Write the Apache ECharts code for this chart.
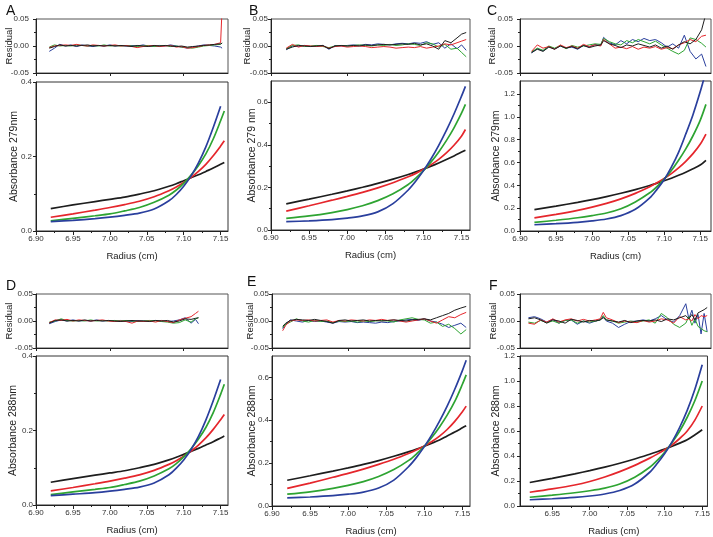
<!DOCTYPE html>
<html><head><meta charset="utf-8">
<script src="https://cdn.jsdelivr.net/npm/echarts@6/dist/echarts.min.js"></script>
<style>html,body{margin:0;padding:0;background:#fff}#c{width:713px;height:537px}</style>
</head><body><div id="c"></div>
<script>
// ---------------- DATA ----------------
const panelLetters = ['A','B','C','D','E','F'];
const yTitles = ['Absorbance 279nm','Absorbance 279 nm','Absorbance 279nm','Absorbance 288nm','Absorbance 288nm','Absorbance 288nm'];
const xTitle = 'Radius (cm)';
const resTitle = 'Residual';
const seriesColors = ['#1e1e1e','#e5262c','#2ea432','#2a3f9d']; // black, red, green, blue

// fitted absorbance curves (radius in cm)
const radiusFit  = [6.92,6.95,6.98,7.00,7.02,7.04,7.06,7.08,7.09,7.10,7.11,7.12,7.13,7.14,7.15,7.155];
const radiusFitC = [6.92,6.95,6.98,7.00,7.02,7.04,7.06,7.08,7.09,7.10,7.11,7.12,7.13,7.14,7.15,7.158];
const radiusFitF = [6.92,6.95,6.98,7.00,7.02,7.04,7.06,7.08,7.09,7.10,7.11,7.12,7.13,7.14,7.15];

const blackFitA = [.060,.070,.079,.085,.091,.099,.108,.120,.127,.135,.143,.151,.160,.169,.179,.184];
const redFitA   = [.037,.046,.056,.063,.071,.080,.092,.108,.118,.130,.144,.160,.179,.202,.228,.242];
const greenFitA = [.027,.034,.041,.046,.054,.063,.077,.096,.110,.128,.150,.176,.207,.247,.296,.322];
const blueFitA  = [.025,.0285,.033,.037,.042,.048,.059,.081,.098,.120,.148,.183,.226,.278,.335,null];

const blackFitB = [.123,.145,.168,.184,.201,.219,.239,.261,.273,.286,.300,.315,.331,.348,.366,.375];
const redFitB   = [.089,.114,.140,.158,.177,.198,.222,.250,.266,.285,.307,.332,.362,.398,.442,.472];
const greenFitB = [.055,.066,.082,.096,.114,.138,.170,.214,.244,.279,.320,.367,.420,.480,.550,.590];
const blueFitB  = [.039,.043,.049,.056,.066,.085,.124,.188,.230,.279,.335,.398,.468,.545,.630,.675];

const blackFitC = [.188,.218,.251,.275,.302,.331,.363,.399,.419,.440,.463,.488,.515,.545,.578,.620];
const redFitC   = [.115,.146,.181,.209,.242,.282,.330,.388,.422,.460,.503,.553,.611,.678,.760,.850];
const greenFitC = [.075,.094,.116,.135,.158,.195,.255,.335,.390,.455,.530,.620,.720,.835,.970,1.11];
const blueFitC  = [.055,.064,.076,.088,.105,.135,.190,.290,.365,.450,.560,.690,.850,1.02,1.22,1.40];

const blackFitD = [.061,.071,.080,.086,.092,.100,.109,.121,.128,.136,.144,.152,.161,.170,.180,.185];
const redFitD   = [.038,.047,.057,.064,.072,.081,.093,.109,.119,.131,.145,.161,.180,.203,.229,.243];
const greenFitD = [.028,.035,.042,.047,.055,.064,.078,.097,.111,.129,.151,.177,.208,.248,.297,.324];
const blueFitD  = [.025,.029,.033,.037,.042,.048,.059,.081,.099,.121,.149,.184,.228,.280,.337,null];

const blackFitE = [.120,.141,.163,.178,.194,.212,.232,.254,.266,.279,.293,.308,.327,.345,.365,.375];
const redFitE   = [.082,.107,.134,.152,.172,.194,.218,.246,.262,.280,.301,.326,.357,.395,.440,.466];
const greenFitE = [.055,.066,.082,.096,.114,.138,.170,.214,.244,.279,.321,.369,.424,.488,.568,.612];
const blueFitE  = [.038,.042,.048,.055,.065,.084,.121,.186,.228,.277,.333,.396,.466,.545,.632,.680];

const blackFitF = [.188,.221,.257,.283,.311,.342,.376,.414,.434,.455,.478,.503,.530,.568,.610];
const redFitF   = [.110,.137,.168,.196,.232,.275,.325,.383,.415,.450,.490,.540,.600,.685,.800];
const greenFitF = [.070,.087,.106,.122,.143,.176,.230,.310,.365,.430,.510,.600,.710,.840,1.00];
const blueFitF  = [.050,.058,.069,.080,.096,.124,.176,.270,.340,.420,.515,.630,.765,.930,1.13];

// residuals
const radiusResA = [6.918,6.925,6.932,6.940,6.947,6.955,6.962,6.970,6.977,6.985,6.992,7.000,7.007,7.015,7.022,7.030,7.037,7.045,7.052,7.060,7.067,7.075,7.082,7.090,7.097,7.105,7.112,7.120,7.127,7.135,7.142,7.150,7.152];
const blackResA = [-0.004,-0.001,0.002,0.000,0.001,0.000,0.001,0.002,0.000,0.001,0.000,0.001,0.000,0.001,0.000,-0.001,0.001,0.000,-0.001,0.001,0.000,0.001,0.000,-0.001,0.000,-0.002,-0.001,0.000,0.001,0.002,0.003,0.004,0.005];
const redResA   = [-0.003,0.000,0.001,0.002,0.001,0.003,0.001,0.000,0.002,0.001,0.000,0.001,0.002,0.000,0.001,-0.001,-0.003,-0.001,0.000,0.001,-0.001,0.000,0.001,-0.002,-0.001,-0.004,-0.003,-0.001,0.001,0.002,0.003,0.006,0.070];
const greenResA = [-0.002,0.002,0.000,0.001,0.000,0.002,0.001,0.000,0.001,0.000,0.002,0.000,0.001,0.000,0.001,0.000,-0.001,0.000,0.001,-0.001,0.000,0.001,-0.001,0.000,-0.002,-0.003,-0.004,-0.002,0.000,0.001,0.002,0.003,0.006];
const blueResA  = [-0.010,-0.004,0.003,0.000,0.002,-0.001,0.002,0.000,-0.001,0.001,0.000,0.002,0.000,0.001,0.000,0.001,0.000,0.002,0.000,-0.001,0.001,0.000,0.002,0.000,-0.002,-0.004,-0.002,0.000,0.002,0.001,0.000,-0.002,-0.004];

const radiusResB = [6.920,6.928,6.936,6.944,6.952,6.960,6.968,6.976,6.984,6.992,7.000,7.008,7.016,7.024,7.032,7.040,7.048,7.056,7.064,7.072,7.080,7.088,7.096,7.104,7.112,7.120,7.128,7.136,7.144,7.150,7.156];
const blackResB = [-0.006,-0.002,0.001,0.000,-0.001,0.000,0.001,-0.005,0.000,0.001,0.000,0.001,0.000,0.002,0.001,0.002,0.003,0.002,0.003,0.004,0.003,0.005,0.002,0.004,0.000,-0.006,0.010,0.006,0.015,0.022,0.025];
const redResB   = [-0.004,0.003,-0.002,0.001,0.000,-0.001,0.000,-0.004,-0.001,0.000,-0.002,-0.001,0.000,-0.001,-0.003,-0.002,-0.001,-0.002,-0.004,-0.003,-0.002,-0.003,-0.001,-0.004,-0.002,0.000,0.004,0.002,0.006,0.009,0.012];
const greenResB = [-0.005,0.001,0.002,-0.001,0.000,0.001,-0.001,-0.003,0.000,0.001,0.000,0.001,0.002,0.001,0.000,0.002,0.001,0.003,0.001,0.002,0.004,0.003,0.001,0.006,0.004,-0.002,0.003,-0.006,-0.004,-0.012,-0.020];
const blueResB  = [-0.007,0.000,-0.001,0.001,-0.001,0.000,0.001,-0.006,0.001,0.000,0.001,0.002,0.001,0.003,0.002,0.004,0.003,0.002,0.004,0.005,0.004,0.006,0.005,0.008,0.003,0.006,-0.004,0.004,-0.005,0.002,-0.008];

const radiusResC = [6.916,6.924,6.932,6.940,6.948,6.956,6.964,6.972,6.980,6.988,6.996,7.004,7.012,7.016,7.024,7.032,7.040,7.048,7.056,7.064,7.072,7.080,7.088,7.096,7.104,7.112,7.120,7.128,7.136,7.144,7.152,7.158];
const blackResC = [-0.012,-0.006,-0.010,-0.002,-0.006,0.000,-0.004,-0.001,-0.005,0.001,-0.003,0.000,0.002,0.010,0.004,0.001,-0.003,0.002,0.000,0.004,0.001,-0.002,0.002,-0.004,0.000,-0.006,0.002,0.008,0.004,0.012,0.030,0.060];
const redResC   = [-0.010,0.002,-0.004,-0.001,-0.006,0.002,-0.003,0.000,-0.004,0.003,-0.001,0.002,0.000,0.012,0.004,-0.004,-0.002,-0.005,-0.001,-0.006,-0.002,-0.004,-0.001,-0.006,-0.003,-0.005,0.002,0.006,0.012,0.008,0.018,0.020];
const greenResC = [-0.011,-0.004,-0.008,0.000,-0.004,0.001,-0.005,0.001,-0.002,0.000,0.002,0.004,0.003,0.014,0.008,0.004,0.002,0.010,0.006,0.012,0.008,0.004,0.009,0.002,-0.004,-0.010,-0.015,-0.008,0.015,0.012,0.005,-0.002];
const blueResC  = [-0.013,-0.005,-0.009,-0.001,-0.005,0.000,-0.004,-0.002,-0.006,0.001,-0.002,0.003,0.001,0.016,0.006,0.002,0.010,0.004,0.012,0.008,0.014,0.010,0.012,0.006,-0.002,0.004,-0.004,0.020,-0.010,-0.024,-0.015,-0.038];

const radiusResD = [6.918,6.926,6.934,6.942,6.950,6.958,6.966,6.974,6.982,6.990,6.998,7.006,7.014,7.022,7.030,7.038,7.046,7.054,7.062,7.070,7.078,7.086,7.094,7.102,7.110,7.116,7.120];
const blackResD = [-0.004,0.001,0.002,0.000,0.001,0.000,0.002,0.000,0.001,0.000,0.001,0.000,-0.001,0.000,0.001,0.000,0.000,-0.001,0.001,0.000,0.001,-0.002,0.000,0.004,0.003,0.005,0.006];
const redResD   = [-0.003,0.002,0.001,0.003,0.000,0.002,0.001,0.000,0.001,0.002,0.000,-0.001,0.000,-0.001,-0.004,0.000,-0.001,0.000,-0.002,0.001,-0.001,-0.003,0.002,0.005,0.008,0.014,0.018];
const greenResD = [-0.002,0.000,0.004,0.001,0.000,0.001,0.000,0.002,0.000,0.001,0.000,0.001,0.000,0.001,0.000,-0.001,0.000,0.001,0.000,-0.001,-0.002,-0.004,-0.003,0.002,-0.002,0.004,0.006];
const blueResD  = [-0.005,-0.001,0.002,0.000,0.002,0.000,0.001,0.000,0.002,0.000,0.001,0.000,0.001,0.000,-0.001,0.001,0.000,0.000,0.001,0.000,-0.001,0.000,0.002,0.006,-0.004,0.003,-0.005];

const radiusResE = [6.914,6.918,6.924,6.932,6.940,6.948,6.956,6.964,6.972,6.980,6.988,6.996,7.004,7.012,7.020,7.028,7.036,7.044,7.052,7.060,7.068,7.076,7.084,7.092,7.100,7.108,7.116,7.124,7.132,7.140,7.148,7.155];
const blackResE = [-0.010,-0.004,0.001,0.003,0.002,0.001,0.003,0.001,-0.001,-0.004,0.001,0.002,0.000,0.001,0.002,0.000,0.001,0.000,0.001,0.002,0.001,0.000,0.002,0.003,0.004,0.002,0.006,0.010,0.014,0.020,0.024,0.027];
const redResE   = [-0.018,-0.008,0.000,0.002,0.001,0.002,0.000,0.001,0.002,-0.002,0.001,0.000,0.002,0.001,0.000,0.002,0.001,0.003,0.001,0.002,0.000,-0.002,0.000,0.002,0.004,0.000,-0.004,0.002,0.008,0.006,0.012,0.016];
const greenResE = [-0.012,-0.006,-0.002,0.004,0.000,-0.002,0.001,-0.001,0.000,-0.003,0.000,-0.001,0.000,-0.002,0.000,-0.001,0.000,0.001,0.000,-0.002,0.002,0.004,0.006,0.003,0.002,-0.004,-0.002,-0.010,-0.006,-0.014,-0.024,-0.016];
const blueResE  = [-0.014,-0.006,0.002,0.000,-0.002,0.001,-0.001,0.000,-0.002,-0.004,-0.001,-0.002,-0.001,-0.003,-0.002,-0.003,-0.004,-0.002,-0.003,-0.001,0.000,0.002,0.003,0.001,0.004,0.000,-0.002,-0.006,-0.012,-0.008,-0.004,-0.012];

const radiusResF = [6.918,6.926,6.934,6.942,6.950,6.958,6.966,6.974,6.982,6.990,6.998,7.006,7.012,7.016,7.020,7.028,7.036,7.044,7.052,7.060,7.068,7.076,7.084,7.092,7.100,7.108,7.116,7.124,7.128,7.132,7.136,7.140,7.144,7.148,7.152];
const blackResF = [0.004,0.006,0.002,-0.004,0.002,0.000,-0.004,0.003,0.001,-0.002,0.001,0.000,0.002,0.006,0.002,0.000,-0.002,0.001,-0.003,0.000,0.001,0.000,0.002,-0.001,0.004,0.002,0.006,0.010,0.004,0.012,0.002,0.015,0.018,0.021,0.025];
const redResF   = [-0.004,-0.006,0.002,-0.002,0.004,-0.002,0.002,0.004,0.000,0.003,0.000,0.002,0.004,0.016,0.006,0.002,-0.003,0.000,-0.002,-0.003,0.001,-0.002,0.000,0.004,0.002,-0.004,0.008,0.002,0.004,0.000,0.012,0.004,0.010,0.008,0.010];
const greenResF = [-0.002,-0.004,0.001,-0.003,0.000,-0.004,0.001,0.002,-0.004,0.000,-0.002,0.000,0.002,0.010,0.002,0.000,-0.004,-0.002,0.000,-0.002,0.000,0.002,-0.004,0.014,0.006,-0.006,-0.012,-0.004,0.008,-0.008,0.004,-0.010,-0.014,-0.018,-0.020];
const blueResF  = [0.006,0.008,0.004,-0.002,0.003,-0.004,0.001,0.002,-0.006,0.000,-0.004,0.000,0.002,0.008,0.000,-0.004,-0.012,-0.006,-0.001,0.000,0.002,0.000,0.004,0.010,0.002,-0.002,0.010,0.032,0.004,0.020,-0.004,0.012,-0.024,0.014,-0.020];

// tick values
const xTicks = [6.90,6.95,7.00,7.05,7.10,7.15];
const xTicksF = [6.95,7.00,7.05,7.10,7.15];
const xMinorTicks = [6.925,6.975,7.025,7.075,7.125];
const resXTicks = [6.90,7.00,7.10];
const resYTicks = [-0.05,0.00,0.05];
const resYMinor = [-0.025,0.025];
const yTicksSmall = [0.0,0.2,0.4];  const yMinorSmall = [0.1,0.3];
const yTicksMid = [0.0,0.2,0.4,0.6]; const yMinorMid = [0.1,0.3,0.5];
const yTicksBig = [0.0,0.2,0.4,0.6,0.8,1.0,1.2]; const yMinorBig = [0.1,0.3,0.5,0.7,0.9,1.1];

const panels = [
  {fitX: radiusFit,  fit:[blackFitA,redFitA,greenFitA,blueFitA], resX: radiusResA, res:[blackResA,redResA,greenResA,blueResA], xMin:6.90, xMax:7.16, yMax:0.4, yT:yTicksSmall, yM:yMinorSmall, xT:xTicks},
  {fitX: radiusFit,  fit:[blackFitB,redFitB,greenFitB,blueFitB], resX: radiusResB, res:[blackResB,redResB,greenResB,blueResB], xMin:6.90, xMax:7.161, yMax:0.7, yT:yTicksMid, yM:yMinorMid, xT:xTicks},
  {fitX: radiusFitC, fit:[blackFitC,redFitC,greenFitC,blueFitC], resX: radiusResC, res:[blackResC,redResC,greenResC,blueResC], xMin:6.90, xMax:7.165, yMax:1.315, yT:yTicksBig, yM:yMinorBig, xT:xTicks},
  {fitX: radiusFit,  fit:[blackFitD,redFitD,greenFitD,blueFitD], resX: radiusResD, res:[blackResD,redResD,greenResD,blueResD], xMin:6.90, xMax:7.16, yMax:0.4, yT:yTicksSmall, yM:yMinorSmall, xT:xTicks},
  {fitX: radiusFit,  fit:[blackFitE,redFitE,greenFitE,blueFitE], resX: radiusResE, res:[blackResE,redResE,greenResE,blueResE], xMin:6.90, xMax:7.16, yMax:0.7, yT:yTicksMid, yM:yMinorMid, xT:xTicks},
  {fitX: radiusFitF, fit:[blackFitF,redFitF,greenFitF,blueFitF], resX: radiusResF, res:[blackResF,redResF,greenResF,blueResF], xMin:6.907, xMax:7.157, yMax:1.2, yT:yTicksBig, yM:yMinorBig, xT:xTicksF}
];

// ---------------- LAYOUT ----------------
const layout = [
  {left:36,  width:192, resTop:19,  mainTop:82,  mainH:149, letter:[1,-1],   resGap:22, yGap:16, resMargin:7, mainMargin:4},
  {left:271, width:199, resTop:19,  mainTop:81,  mainH:149, letter:[244,-1], resGap:19, yGap:13, resMargin:3, mainMargin:3},
  {left:520, width:191, resTop:19,  mainTop:81,  mainH:150, letter:[482,-1], resGap:23, yGap:18, resMargin:7, mainMargin:5},
  {left:36,  width:192, resTop:294, mainTop:356, mainH:149, letter:[1,274],  resGap:22, yGap:17, resMargin:3, mainMargin:3},
  {left:272, width:198, resTop:294, mainTop:356, mainH:150, letter:[242,270],resGap:17, yGap:14, resMargin:3, mainMargin:3},
  {left:520, width:191, resTop:294, mainTop:356, mainH:150, letter:[484,274],resGap:22, yGap:18, resMargin:5, mainMargin:5}
];
const resH = 54;
const FONT = '"Liberation Sans", Arial, sans-serif';
const lblColor = '#333';

const option = {animation:false, backgroundColor:'#fff', title:[], grid:[], xAxis:[], yAxis:[], series:[]};

function axisPair(list, gi, min, max, majors, minors, fmt, showLbl, margin, name, nameGap, nameSize, tickLen, position) {
  const idx = list.length;
  list.push({
    type:'value', gridIndex:gi, min:min, max:max, position:position,
    axisLine:{show:true, onZero:false, lineStyle:{color:'#222', width:1}},
    axisTick:{show:true, inside:false, length:tickLen, customValues:majors, lineStyle:{color:'#222', width:1}},
    axisLabel:{show:showLbl, customValues:majors, formatter:fmt, fontSize:8, color:lblColor, margin:margin, fontFamily:FONT, showMinLabel:true, showMaxLabel:true, hideOverlap:false},
    splitLine:{show:false},
    name:name, nameLocation:'middle', nameGap:nameGap, nameMoveOverlap:false,
    nameTextStyle:{fontSize:nameSize, color:'#222', fontFamily:FONT}
  });
  if (minors) {
    list.push({
      type:'value', gridIndex:gi, min:min, max:max, position:position,
      axisLine:{show:false}, axisLabel:{show:false}, splitLine:{show:false},
      axisTick:{show:true, inside:false, length:2, customValues:minors, lineStyle:{color:'#222', width:1}}
    });
  }
  return idx;
}

panels.forEach((p, i) => {
  const L = layout[i];
  option.title.push({text:panelLetters[i], left:L.letter[0], top:L.letter[1], textStyle:{fontSize:14, fontWeight:'normal', color:'#111', fontFamily:FONT}});
  const gRes = option.grid.length;
  option.grid.push({left:L.left, top:L.resTop, width:L.width, height:resH, show:true, borderColor:'#555', borderWidth:1, backgroundColor:'transparent'});
  const gMain = gRes + 1;
  option.grid.push({left:L.left, top:L.mainTop, width:L.width, height:L.mainH, show:true, borderColor:'#333', borderWidth:1, backgroundColor:'transparent'});

  const xRes = axisPair(option.xAxis, gRes, p.xMin, p.xMax, resXTicks, null, v=>v.toFixed(2), false, 4, '', 0, 9, 3, 'bottom');
  const xMain = axisPair(option.xAxis, gMain, p.xMin, p.xMax, p.xT, xMinorTicks, v=>v.toFixed(2), true, 4, xTitle, 20, 9.5, 4, 'bottom');
  const yRes = axisPair(option.yAxis, gRes, -0.05, 0.05, resYTicks, resYMinor, v=>v.toFixed(2), true, L.resMargin, resTitle, L.resGap, 9.5, 3, 'left');
  const yMain = axisPair(option.yAxis, gMain, 0, p.yMax, p.yT, p.yM, v=>v.toFixed(1), true, L.mainMargin, yTitles[i], L.yGap, 10.5, 3, 'left');

  p.fit.forEach((arr, k) => {
    const data = [];
    arr.forEach((v, j) => { if (v !== null) data.push([p.fitX[j], v]); });
    option.series.push({type:'line', xAxisIndex:xMain, yAxisIndex:yMain, data:data, showSymbol:false, smooth:0.3, clip:true,
      lineStyle:{color:seriesColors[k], width:1.7}, itemStyle:{color:seriesColors[k]}, z:2+k});
  });
  p.res.forEach((arr, k) => {
    const data = arr.map((v, j) => [p.resX[j], v]);
    option.series.push({type:'line', xAxisIndex:xRes, yAxisIndex:yRes, data:data, showSymbol:false, smooth:false, clip:true,
      lineStyle:{color:seriesColors[k], width:1}, itemStyle:{color:seriesColors[k]}, z:2+(3-k)});
  });
});

const chart = echarts.init(document.getElementById('c'), null, {renderer:'canvas', width:713, height:537});
chart.setOption(option);
</script>
</body></html>
